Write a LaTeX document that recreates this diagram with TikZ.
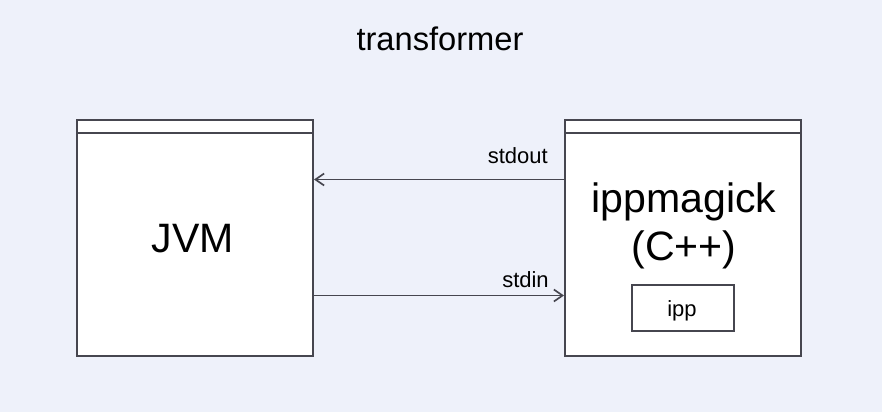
\documentclass[tikz,border=0pt]{standalone}
\usepackage{fontspec}
\setmainfont{Liberation Sans}
\usetikzlibrary{arrows.meta,calc}
\definecolor{bg}{HTML}{EEF1FA}
\definecolor{ln}{HTML}{46464F}
\tikzset{
  box/.style={draw=ln, line width=1.5pt, fill=white, minimum width=177pt, minimum height=177pt, inner sep=0pt},
  hdr/.style={draw=ln, line width=1.5pt},
  inbox/.style={draw=ln, line width=1.3pt, fill=white, minimum width=76.5pt, minimum height=34.5pt, inner sep=0pt},
  arr/.style={draw=ln, line width=1.25pt, -{Straight Barb[length=6.5pt,width=9pt]}},
  lbl/.style={font=\fontsize{16.5}{19}\selectfont, anchor=base east, inner sep=0pt},
  big/.style={font=\fontsize{30.8}{36}\selectfont, anchor=base, inner sep=0pt},
}
\begin{document}
\begin{tikzpicture}[x=0.75pt,y=-0.75pt]
\fill[bg] (0,0) rectangle (882,412);
\useasboundingbox (0,0) rectangle (882,412);
\node[font=\fontsize{24.5}{28}\selectfont, anchor=base, inner sep=0pt] (title) at (440,50) {transformer};
\node[box] (jvm) at (195,238) {};
\node[box] (ippm) at (683,238) {};
\draw[hdr] ($(jvm.north west)+(0,14)$) -- ($(jvm.north east)+(0,14)$);
\draw[hdr] ($(ippm.north west)+(0,14)$) -- ($(ippm.north east)+(0,14)$);
\node[big] (jvmt) at (193,252) {JVM};
\node[big] (ippt1) at (684,212) {ippmagick};
\node[big] (ippt2) at (684,260) {(C++)};
\node[inbox] (ipp) at (683,308) {};
\node[font=\fontsize{16.5}{19}\selectfont, anchor=base, inner sep=0pt] (ippl) at (682,316) {ipp};
\coordinate (yo) at (0,179.5);
\coordinate (yi) at (0,295.5);
\draw[arr] (ippm.west |- yo) -- (jvm.east |- yo);
\draw[arr] (jvm.east |- yi) -- (ippm.west |- yi);
\node[lbl] (so) at (548,163) {stdout};
\node[lbl] (si) at (549,287) {stdin};
\end{tikzpicture}
\end{document}
